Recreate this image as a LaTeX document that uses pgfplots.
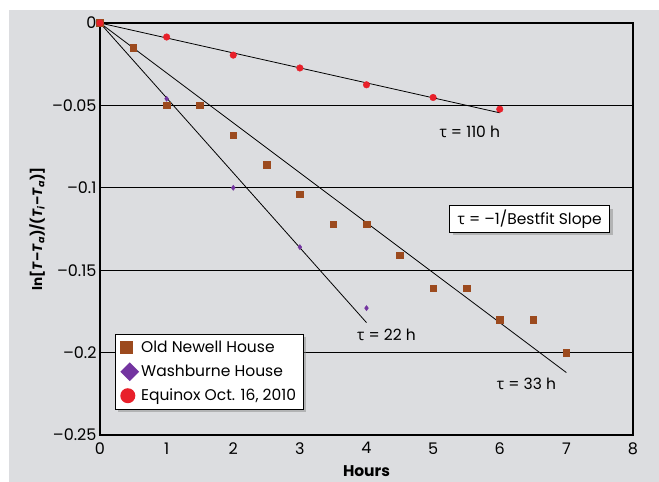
\documentclass[border=0pt]{standalone}
\usepackage{fontspec}
\setmainfont{Poppins}
\newfontfamily\grk{Open Sans}
\usepackage{pgfplots}
\pgfplotsset{compat=1.18}
\usetikzlibrary{shadows,shapes.geometric}
\definecolor{bg}{HTML}{DCDDE0}
\definecolor{brn}{HTML}{9C4A1E}
\definecolor{prp}{HTML}{7334A0}
\definecolor{rd}{HTML}{E8202A}
\newcommand\fs{\fontsize{15.5bp}{18bp}\selectfont}
\newcommand\ft{\fontsize{16bp}{18bp}\selectfont}
\newcommand\tauc{{\grk τ}}
\begin{document}
\begin{tikzpicture}
\path[use as bounding box, fill=white] (-100bp,-47bp) rectangle (559bp,435bp);
\fill[bg] (-91bp,-47bp) rectangle (559bp,425bp);
\begin{axis}[
  scale only axis, width=533bp, height=412bp, at={(0,0)}, anchor=south west,
  xmin=0, xmax=8, ymin=-0.25, ymax=0,
  xtick={0,1,2,3,4,5,6,7,8},
  ytick={-0.25,-0.2,-0.15,-0.1,-0.05,0},
  yticklabels={\textendash0.25,\textendash0.2,\textendash0.15,\textendash0.1,\textendash0.05,0},
  xticklabels={0,1,2,3,4,5,6,7,8},
  major tick length=0pt,
  tick label style={font=\ft},
  xticklabel style={yshift=-4bp},
  axis line style={black, line width=1.2pt},
  ymajorgrids, major grid style={black, line width=0.9pt},
  clip=false,
  xlabel={\bfseries Hours},
  xlabel style={font=\fs, inner sep=0pt, at={(axis description cs:0.5,-0.087)}, anchor=center},
  ylabel={\bfseries ln[\textit{T}\textendash\textit{T}\textsubscript{\textit{a}})/(\textit{T}\textsubscript{\textit{i}}\textendash\textit{T}\textsubscript{\textit{a}})]},
  ylabel style={font=\fontsize{13.5bp}{16bp}\selectfont, at={(axis description cs:-0.118,0.5)}, anchor=center},
  legend style={at={(rel axis cs:0.028,0.245)}, anchor=north west, draw=black, line width=0.8pt, fill=white,
    drop shadow={shadow xshift=3bp, shadow yshift=-3bp, opacity=0.45}, font=\fs,
    row sep=6bp, inner xsep=5bp, inner ysep=5bp},
  legend cell align=left,
]
\addplot[black, line width=0.8pt, no marks, forget plot] coordinates {(0,0) (6,-0.0545)};
\addplot[black, line width=0.8pt, no marks, forget plot] coordinates {(0,0) (7,-0.2121)};
\addplot[black, line width=0.8pt, no marks, forget plot] coordinates {(0,0) (4,-0.1818)};
\addplot[only marks, mark=square*, mark size=3.3bp, color=brn,
  legend image code/.code={\node[fill=brn, minimum size=13bp, inner sep=0pt] at (0.25cm,0) {};}]
  coordinates {(0,0) (0.5,-0.015) (1,-0.05) (1.5,-0.05) (2,-0.068) (2.5,-0.086) (3,-0.104) (3.5,-0.122) (4,-0.122) (4.5,-0.141) (5,-0.161) (5.5,-0.161) (6,-0.18) (6.5,-0.18) (7,-0.2)};
\addlegendentry{Old Newell House}
\addplot[only marks, mark=diamond*, mark size=2.6bp, color=prp,
  legend image code/.code={\node[diamond, fill=prp, minimum size=19bp, inner sep=0pt] at (0.25cm,0) {};}]
  coordinates {(0,0) (1,-0.046) (2,-0.1) (3,-0.136) (4,-0.173)};
\addlegendentry{Washburne House}
\addplot[only marks, mark=*, mark size=3.3bp, color=rd,
  legend image code/.code={\node[circle, fill=rd, minimum size=15bp, inner sep=0pt] at (0.25cm,0) {};}]
  coordinates {(0,0) (1,-0.0085) (2,-0.0195) (3,-0.0273) (4,-0.0375) (5,-0.0452) (6,-0.0523)};
\addlegendentry{Equinox Oct. 16, 2010}
\node[font=\fs] at (axis cs:5.55,-0.066) {\tauc\ =\ 110 h};
\node[font=\fs] at (axis cs:4.3,-0.189) {\tauc\ =\ 22 h};
\node[font=\fs] at (axis cs:6.4,-0.219) {\tauc\ =\ 33 h};
\node[font=\fs, draw=black, line width=0.8pt, fill=white, inner xsep=8bp, inner ysep=4bp,
  drop shadow={shadow xshift=3bp, shadow yshift=-3bp, opacity=0.45}]
  at (axis cs:6.45,-0.119) {\tauc\ =\ \textendash1/Bestfit Slope};
\end{axis}
\end{tikzpicture}
\end{document}
